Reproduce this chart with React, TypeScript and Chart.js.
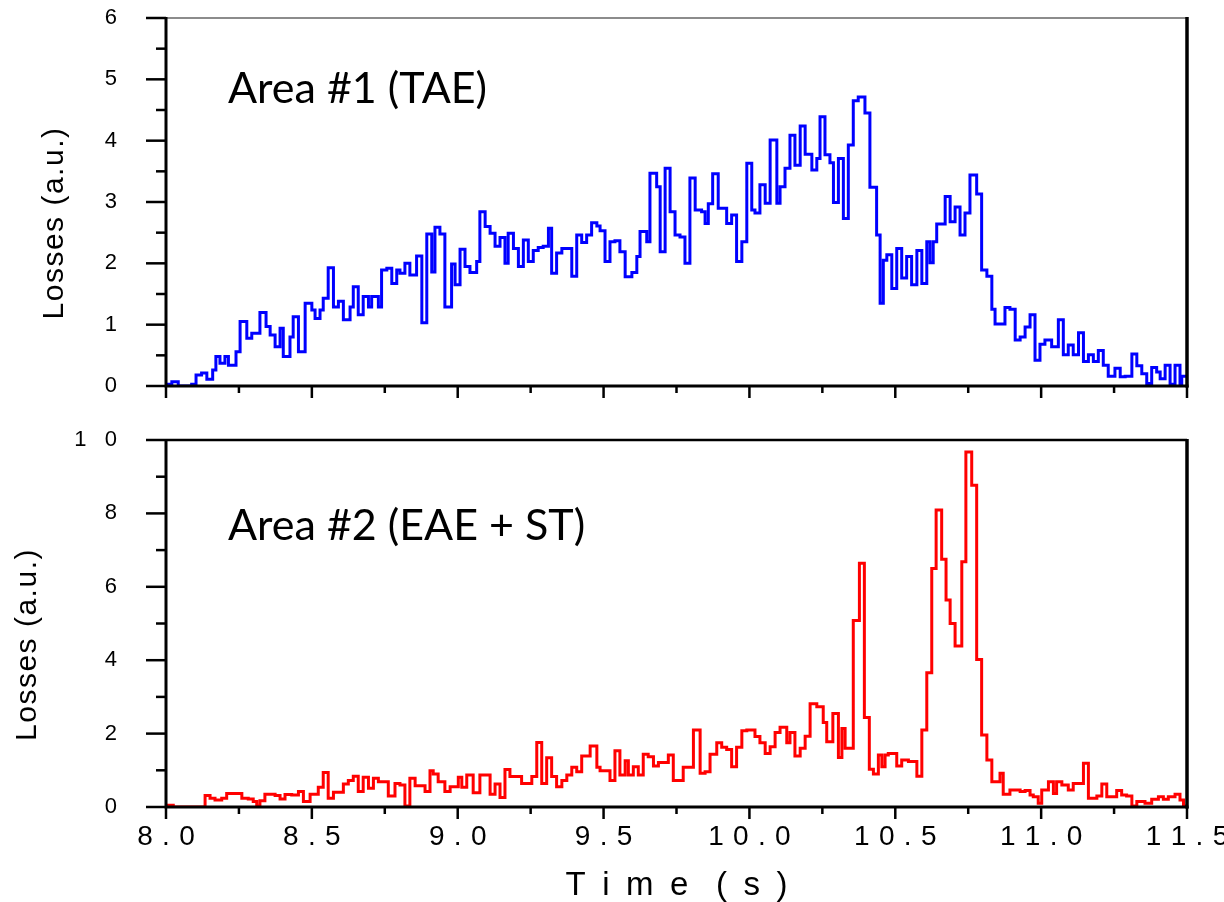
import React, { useEffect, useRef } from "react";
import { Chart, registerables } from "chart.js";

Chart.register(...registerables);

// ---- Data (step start times in s, last entry = end of last step) ----
const area1Times = [
  8.000, 8.020, 8.042, 8.088, 8.103, 8.122, 8.140, 8.160, 8.171, 8.185,
  8.202, 8.214, 8.240, 8.254, 8.277, 8.294, 8.322, 8.343, 8.357, 8.374,
  8.391, 8.402, 8.425, 8.436, 8.454, 8.477, 8.500, 8.511, 8.528, 8.539,
  8.556, 8.574, 8.591, 8.608, 8.631, 8.642, 8.659, 8.676, 8.694, 8.705,
  8.728, 8.739, 8.757, 8.774, 8.791, 8.802, 8.819, 8.836, 8.859, 8.877,
  8.894, 8.911, 8.922, 8.939, 8.956, 8.979, 8.991, 9.008, 9.025, 9.042,
  9.065, 9.076, 9.094, 9.111, 9.128, 9.145, 9.162, 9.173, 9.191, 9.208,
  9.225, 9.242, 9.259, 9.276, 9.293, 9.311, 9.322, 9.339, 9.357, 9.391,
  9.408, 9.425, 9.442, 9.459, 9.477, 9.488, 9.505, 9.522, 9.539, 9.556,
  9.574, 9.597, 9.614, 9.625, 9.648, 9.659, 9.682, 9.694, 9.711, 9.728,
  9.745, 9.762, 9.779, 9.796, 9.814, 9.836, 9.848, 9.859, 9.874, 9.893,
  9.922, 9.939, 9.956, 9.974, 9.991, 10.008, 10.019, 10.036, 10.054, 10.071,
  10.094, 10.105, 10.122, 10.139, 10.156, 10.174, 10.191, 10.214, 10.231, 10.242,
  10.259, 10.276, 10.288, 10.305, 10.322, 10.339, 10.356, 10.373, 10.396, 10.413,
  10.436, 10.448, 10.459, 10.471, 10.488, 10.505, 10.522, 10.539, 10.556, 10.574,
  10.591, 10.608, 10.619, 10.630, 10.642, 10.671, 10.688, 10.705, 10.722, 10.739,
  10.756, 10.779, 10.796, 10.814, 10.831, 10.842, 10.876, 10.893, 10.911, 10.928,
  10.945, 10.962, 10.979, 10.996, 11.013, 11.036, 11.059, 11.076, 11.093, 11.110,
  11.128, 11.145, 11.162, 11.179, 11.196, 11.213, 11.230, 11.253, 11.271, 11.288,
  11.311, 11.328, 11.345, 11.362, 11.379, 11.396, 11.408, 11.425, 11.442, 11.459,
  11.476, 11.482, 11.500,
];

const area1Losses = [
  0.03, 0.07, 0.0, 0.03, 0.18, 0.21, 0.11, 0.26, 0.48, 0.37,
  0.48, 0.34, 0.56, 1.05, 0.78, 0.86, 1.2, 0.97, 0.83, 0.64,
  0.94, 0.48, 0.80, 1.13, 0.56, 1.35, 1.24, 1.10, 1.24, 1.43,
  1.93, 1.29, 1.38, 1.08, 1.29, 1.62, 1.16, 1.46, 1.29, 1.46,
  1.29, 1.89, 1.92, 1.67, 1.89, 1.84, 2.0, 1.81, 2.12, 1.03,
  2.48, 1.86, 2.59, 2.48, 1.29, 1.99, 1.65, 2.23, 1.95, 1.85,
  2.03, 2.84, 2.60, 2.49, 2.28, 2.42, 2.0, 2.49, 2.24, 1.95,
  2.38, 2.03, 2.21, 2.26, 2.28, 2.57, 1.84, 2.17, 2.24, 1.79,
  2.46, 2.34, 2.46, 2.66, 2.61, 2.53, 2.03, 2.35, 2.37, 2.19,
  1.78, 1.85, 2.11, 2.52, 2.35, 3.47, 3.25, 2.19, 3.55, 2.84,
  2.46, 2.43, 2.0, 3.39, 2.87, 2.84, 2.65, 2.97, 3.46, 2.90,
  2.65, 2.79, 2.03, 2.35, 3.63, 2.87, 2.82, 3.28, 2.98, 4.01,
  2.98, 3.25, 3.55, 4.09, 3.60, 4.24, 3.78, 3.52, 3.71, 4.39,
  3.77, 3.64, 2.99, 3.71, 2.73, 3.93, 4.65, 4.71, 4.45, 3.24,
  2.46, 1.35, 2.05, 2.14, 1.59, 2.24, 1.76, 2.11, 1.65, 2.21,
  1.67, 2.35, 2.01, 2.35, 2.64, 3.09, 2.68, 2.92, 2.46, 2.82,
  3.44, 3.13, 1.89, 1.79, 1.25, 1.01, 1.28, 1.25, 0.75, 0.80,
  0.96, 1.16, 0.42, 0.68, 0.75, 0.64, 1.08, 0.51, 0.67, 0.51,
  0.87, 0.40, 0.51, 0.40, 0.58, 0.34, 0.16, 0.29, 0.15, 0.16,
  0.52, 0.33, 0.20, 0.04, 0.30, 0.23, 0.12, 0.34, 0.03, 0.34,
  0.03, 0.16,
];

const area2Times = [
  8.000, 8.025, 8.134, 8.151, 8.168, 8.191, 8.208, 8.260, 8.282, 8.299,
  8.311, 8.322, 8.339, 8.374, 8.391, 8.408, 8.431, 8.454, 8.471, 8.494,
  8.522, 8.539, 8.556, 8.574, 8.608, 8.625, 8.642, 8.659, 8.676, 8.694,
  8.711, 8.728, 8.762, 8.785, 8.802, 8.819, 8.836, 8.854, 8.888, 8.905,
  8.916, 8.933, 8.956, 8.974, 9.002, 9.014, 9.031, 9.053, 9.076, 9.111,
  9.128, 9.145, 9.162, 9.179, 9.219, 9.254, 9.271, 9.288, 9.305, 9.322,
  9.339, 9.357, 9.374, 9.391, 9.408, 9.425, 9.454, 9.477, 9.488, 9.522,
  9.539, 9.556, 9.574, 9.585, 9.602, 9.619, 9.636, 9.653, 9.671, 9.688,
  9.722, 9.739, 9.773, 9.808, 9.831, 9.848, 9.865, 9.888, 9.905, 9.922,
  9.939, 9.956, 9.974, 9.991, 10.019, 10.036, 10.054, 10.071, 10.088, 10.105,
  10.128, 10.139, 10.156, 10.174, 10.191, 10.208, 10.231, 10.253, 10.265, 10.286,
  10.305, 10.317, 10.328, 10.356, 10.377, 10.394, 10.411, 10.425, 10.442, 10.454,
  10.465, 10.476, 10.505, 10.522, 10.545, 10.574, 10.591, 10.608, 10.625, 10.640,
  10.659, 10.674, 10.688, 10.705, 10.728, 10.742, 10.762, 10.779, 10.796, 10.814,
  10.831, 10.859, 10.870, 10.893, 10.928, 10.945, 10.962, 10.973, 10.990, 11.002,
  11.025, 11.042, 11.053, 11.071, 11.093, 11.110, 11.145, 11.162, 11.191, 11.208,
  11.225, 11.259, 11.276, 11.293, 11.311, 11.328, 11.356, 11.379, 11.402, 11.419,
  11.436, 11.459, 11.476, 11.488, 11.500,
];

const area2Losses = [
  0.05, 0.0, 0.31, 0.24, 0.19, 0.24, 0.37, 0.24, 0.22, 0.15,
  0.03, 0.17, 0.35, 0.31, 0.22, 0.34, 0.33, 0.42, 0.15, 0.35,
  0.54, 0.94, 0.24, 0.40, 0.63, 0.72, 0.84, 0.42, 0.81, 0.51,
  0.78, 0.69, 0.30, 0.64, 0.60, 0.03, 0.78, 0.58, 0.42, 0.99,
  0.90, 0.69, 0.42, 0.55, 0.81, 0.54, 0.87, 0.39, 0.87, 0.35,
  0.63, 0.26, 1.02, 0.83, 0.64, 0.83, 1.76, 0.64, 1.34, 0.83,
  0.55, 0.72, 0.87, 1.08, 0.96, 1.39, 1.66, 1.08, 0.99, 0.72,
  1.53, 0.87, 1.26, 0.87, 1.10, 0.87, 1.44, 1.37, 1.12, 1.21,
  1.42, 0.72, 1.08, 2.10, 0.92, 0.96, 1.44, 1.75, 1.63, 1.57,
  1.10, 1.63, 2.08, 2.10, 1.92, 1.75, 1.46, 1.64, 2.03, 2.17,
  1.75, 2.03, 1.39, 1.60, 1.93, 2.81, 2.73, 2.30, 1.78, 2.55,
  1.35, 2.14, 1.60, 5.08, 6.64, 2.44, 1.03, 0.90, 1.42, 1.10,
  1.42, 1.46, 1.12, 1.28, 1.24, 0.84, 2.10, 3.66, 6.50, 8.09,
  6.75, 5.64, 5.00, 4.39, 6.68, 9.67, 8.77, 4.02, 1.96, 1.28,
  0.69, 0.92, 0.35, 0.46, 0.42, 0.45, 0.33, 0.28, 0.10, 0.46,
  0.69, 0.37, 0.69, 0.60, 0.46, 0.64, 1.19, 0.24, 0.30, 0.63,
  0.28, 0.45, 0.33, 0.30, 0.03, 0.15, 0.10, 0.21, 0.28, 0.21,
  0.28, 0.35, 0.19, 0.03,
];

const TIME_MIN = 8.0;
const TIME_MAX = 11.5;
const TIME_STEP_MINOR = 0.25;
const TIME_STEP_MAJOR = 0.5;
const area1YMax = 6;
const area2YMax = 10;
const area1Label = "Area #1 (TAE)";
const area2Label = "Area #2 (EAE + ST)";
const yTitle = "Losses (a.u.)";
const EN = "\u2002"; // en space
const THIRD = "\u2004"; // three-per-em space
const xTitle = "T" + EN + "i" + EN + "m" + EN + "e" + EN + THIRD + "(" + EN + "s" + EN + ")";

const AXIS_FONT = '"Liberation Sans", Arial, sans-serif';
const LABEL_FONT = 'Lato, "Open Sans", "Liberation Sans", sans-serif';

function fontExists(name: string): boolean {
  const c = document.createElement("canvas").getContext("2d");
  if (!c) return false;
  const sample = "Time 0123456789 (s) mmmwwwiii";
  c.font = `40px "${name}", monospace`;
  const a = c.measureText(sample).width;
  c.font = `40px "${name}", serif`;
  const b = c.measureText(sample).width;
  return Math.abs(a - b) < 0.01;
}

function pickNarrowFont(): string {
  const cands = ["Liberation Sans Narrow", "Arial Narrow"];
  for (const f of cands) if (fontExists(f)) return `"${f}", "Liberation Sans", Arial, sans-serif`;
  return AXIS_FONT;
}

function buildSteps(times: number[], values: number[]) {
  const n = Math.min(values.length, times.length - 1);
  const pts: { x: number; y: number }[] = [];
  for (let i = 0; i < n; i++) pts.push({ x: times[i], y: values[i] });
  pts.push({ x: times[n], y: values[n - 1] });
  return pts;
}

const isMultiple = (v: number, m: number) => Math.abs(v / m - Math.round(v / m)) < 1e-6;
const spacedBy = (s: string, sep: string) => s.split("").join(sep);

interface PanelCfg {
  key: string;
  times: number[];
  values: number[];
  color: string;
  yMax: number;
  yStep: number;
  yMajor: number;
  padTop: number;
  xHeight: number;
  showX: boolean;
  topBorderColor: string;
  topBorderWidth: number;
  yTitleX: number;
  label: string;
  labelDy: number;
}

function makeFramePlugin(cfg: PanelCfg) {
  return {
    id: "frame_" + cfg.key,
    afterDraw(chart: any) {
      const { ctx, chartArea: a, scales } = chart;
      const xs = scales.x;
      const ys = scales.y;
      ctx.save();
      ctx.lineCap = "butt";
      // top border
      ctx.strokeStyle = cfg.topBorderColor;
      ctx.lineWidth = cfg.topBorderWidth;
      ctx.beginPath();
      ctx.moveTo(a.left, a.top);
      ctx.lineTo(a.right, a.top);
      ctx.stroke();
      // right border
      ctx.strokeStyle = "#000";
      ctx.lineWidth = 3.5;
      ctx.beginPath();
      ctx.moveTo(a.right, a.top - 1);
      ctx.lineTo(a.right, a.bottom + 1.5);
      ctx.stroke();
      // left + bottom axes
      ctx.lineWidth = 3;
      ctx.beginPath();
      ctx.moveTo(a.left, a.top - 1);
      ctx.lineTo(a.left, a.bottom + 1.5);
      ctx.moveTo(a.left - 1.5, a.bottom);
      ctx.lineTo(a.right + 1.5, a.bottom);
      ctx.stroke();
      // ticks
      ctx.lineWidth = 2.5;
      for (const t of ys.ticks) {
        const py = ys.getPixelForValue(t.value);
        const major = isMultiple(t.value, cfg.yMajor);
        ctx.beginPath();
        ctx.moveTo(a.left, py);
        ctx.lineTo(a.left - (major ? 20 : 10), py);
        ctx.stroke();
      }
      for (const t of xs.ticks) {
        const px = xs.getPixelForValue(t.value);
        const major = isMultiple(t.value, TIME_STEP_MAJOR);
        ctx.beginPath();
        ctx.moveTo(px, a.bottom);
        ctx.lineTo(px, a.bottom + (major ? 12 : 7));
        ctx.stroke();
      }
      // y title
      ctx.fillStyle = "#000";
      ctx.font = `30px ${AXIS_FONT}`;
      ctx.textAlign = "center";
      ctx.textBaseline = "middle";
      ctx.save();
      try {
        (ctx as any).letterSpacing = "1.5px";
      } catch (e) {
        /* ignore */
      }
      ctx.translate(cfg.yTitleX, (a.top + a.bottom) / 2 + 21);
      ctx.rotate(-Math.PI / 2);
      ctx.fillText(yTitle, 0, 0);
      ctx.restore();
      // panel label
      ctx.font = `43px ${LABEL_FONT}`;
      ctx.textAlign = "left";
      ctx.textBaseline = "alphabetic";
      ctx.fillText(cfg.label, a.left + 62, a.top + cfg.labelDy);
      ctx.restore();
    },
  };
}

function makeConfig(cfg: PanelCfg, narrowFont: string): any {
  return {
    type: "line",
    data: {
      datasets: [
        {
          data: buildSteps(cfg.times, cfg.values),
          borderColor: cfg.color,
          borderWidth: 3,
          pointRadius: 0,
          stepped: true,
          fill: false,
          borderJoinStyle: "miter",
          borderCapStyle: "butt",
        },
      ],
    },
    options: {
      animation: false,
      responsive: true,
      maintainAspectRatio: false,
      layout: { padding: { left: 0, right: 37, top: cfg.padTop, bottom: 0 } },
      plugins: { legend: { display: false }, tooltip: { enabled: false } },
      scales: {
        x: {
          type: "linear",
          min: TIME_MIN,
          max: TIME_MAX,
          grid: { display: false, drawTicks: false },
          border: { display: false },
          ticks: {
            display: cfg.showX,
            stepSize: TIME_STEP_MINOR,
            autoSkip: false,
            maxRotation: 0,
            padding: 13,
            color: "#000",
            font: { family: narrowFont, size: 28 },
            callback: (v: number) => (isMultiple(v, TIME_STEP_MAJOR) ? spacedBy(v.toFixed(1), THIRD) : ""),
          },
          title: {
            display: cfg.showX,
            text: xTitle,
            color: "#000",
            font: { family: narrowFont, size: 33, lineHeight: 1 },
            padding: { top: 0, bottom: 0 },
          },
          afterFit: (s: any) => {
            s.height = cfg.xHeight;
            s.paddingLeft = 0;
            s.paddingRight = 0;
          },
        },
        y: {
          min: 0,
          max: cfg.yMax,
          grid: { display: false, drawTicks: false },
          border: { display: false },
          ticks: {
            stepSize: cfg.yStep,
            autoSkip: false,
            padding: 49,
            color: "#000",
            font: { family: AXIS_FONT, size: 22 },
            callback: (v: number) => (isMultiple(v, cfg.yMajor) ? spacedBy(String(Math.round(v)), EN + THIRD) : ""),
          },
          afterFit: (s: any) => {
            s.width = 166;
            s.paddingTop = 0;
            s.paddingBottom = 0;
          },
        },
      },
    },
    plugins: [makeFramePlugin(cfg)],
  };
}

const topCfg: PanelCfg = {
  key: "top",
  times: area1Times,
  values: area1Losses,
  color: "#0000ff",
  yMax: area1YMax,
  yStep: 0.5,
  yMajor: 1,
  padTop: 18,
  xHeight: 34,
  showX: false,
  topBorderColor: "#666",
  topBorderWidth: 1.5,
  yTitleX: 55,
  label: area1Label,
  labelDy: 85,
};

const botCfg: PanelCfg = {
  key: "bot",
  times: area2Times,
  values: area2Losses,
  color: "#ff0000",
  yMax: area2YMax,
  yStep: 1,
  yMajor: 2,
  padTop: 20,
  xHeight: 95,
  showX: true,
  topBorderColor: "#000",
  topBorderWidth: 2.5,
  yTitleX: 28,
  label: area2Label,
  labelDy: 100,
};

export default function App() {
  const topRef = useRef<HTMLCanvasElement>(null);
  const botRef = useRef<HTMLCanvasElement>(null);

  useEffect(() => {
    const narrow = pickNarrowFont();
    const c1 = new Chart(topRef.current as HTMLCanvasElement, makeConfig(topCfg, narrow));
    const c2 = new Chart(botRef.current as HTMLCanvasElement, makeConfig(botCfg, narrow));
    return () => {
      c1.destroy();
      c2.destroy();
    };
  }, []);

  return (
    <div style={{ position: "fixed", left: 0, top: 0, width: 1224, height: 902, background: "#fff" }}>
      <div style={{ position: "absolute", left: 0, top: 0, width: 1224, height: 420 }}>
        <canvas ref={topRef} />
      </div>
      <div style={{ position: "absolute", left: 0, top: 420, width: 1224, height: 482 }}>
        <canvas ref={botRef} />
      </div>
    </div>
  );
}
